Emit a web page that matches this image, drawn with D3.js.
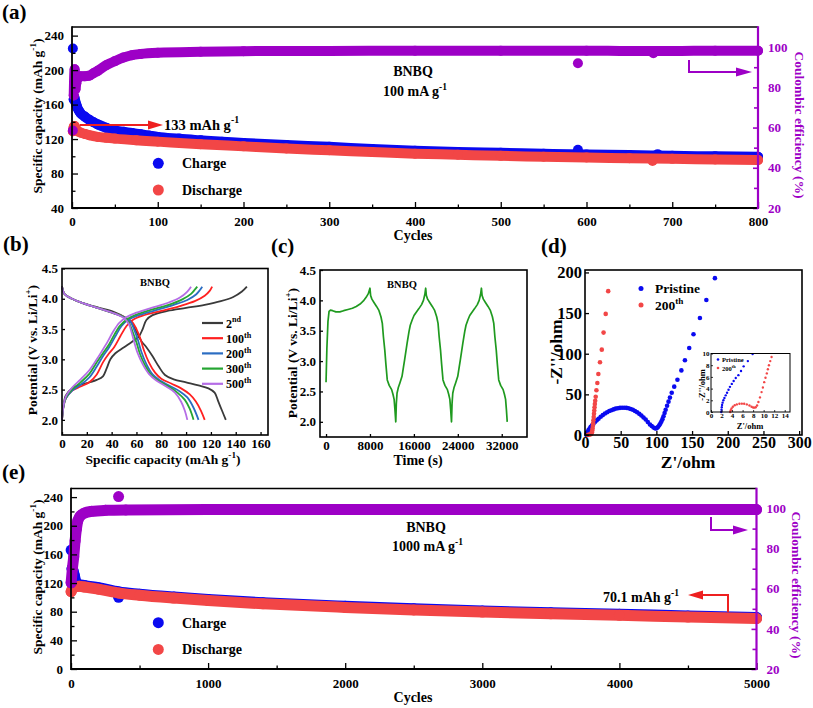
<!DOCTYPE html>
<html><head><meta charset="utf-8">
<script src="https://cdn.jsdelivr.net/npm/d3@7"></script>
<style>
body{margin:0;background:#fff}
svg{display:block}
text{font-family:"Liberation Serif","Times New Roman",serif;font-weight:bold}
</style></head><body>
<svg id="fig" width="813" height="708"></svg>
<script>
// ---------------- DATA ----------------
// (a) 100 mA g-1, [cycle, value]
const aCharge = [[2,166],[3,168],[4,163],[5,160],[6,157],[8,153],[10,150],[15,146],[20,142.5],[25,139.5],[30,137],[40,133],[50,130],[60,128.5],[70,127],[80,125.5],[90,124],[100,122.5],[125,120.5],[150,118.5],[175,117],[200,115.5],[250,113],[300,111],[350,108.5],[400,106.5],[450,105],[500,104],[550,103],[600,102],[650,101.5],[700,100.5],[750,100],[800,99.5]];
const aChargeOut = [[1,225],[590,107.5],[683,102.5]];
const aDischarge = [[1,129],[2,134],[3,135],[4,133],[5,131],[7,129],[10,127.5],[15,126],[20,124.5],[30,122.5],[40,121.5],[50,120.5],[75,118.5],[100,117],[150,114],[200,111.5],[250,109],[300,107],[350,105],[400,103],[450,101.8],[500,100.5],[550,99.5],[600,98.5],[650,97.8],[700,97],[750,96.3],[800,95.6]];
const aDischargeOut = [[677,94.5]];
const aCE = [[2,76],[3,89],[4,79],[5,82],[6,84],[8,85],[10,85.5],[15,85.5],[20,85.8],[25,87],[30,88.2],[40,91],[50,93],[60,94.8],[70,96],[80,96.6],[100,97.2],[150,97.7],[200,98],[300,98.1],[400,98.2],[500,98.2],[600,98.2],[650,98.1],[700,98.1],[750,98.2],[800,98.2]];
const aCEOut = [[1,58.5],[590,92],[678,97]];

// (e) 1000 mA g-1
const eCharge = [[8,140],[15,137],[25,130],[35,122],[50,118.5],[100,116.5],[200,113.5],[350,107.5],[500,104.5],[750,100.5],[1000,97],[1400,92.5],[2000,87.5],[2500,84],[3000,81],[3500,78.5],[4000,76.5],[4500,74],[5000,72]];
const eChargeOut = [[1,166],[347,100]];
const eDischarge = [[1,108],[10,112],[30,115],[60,115.5],[100,114.5],[200,111.5],[350,106],[500,103],[750,99],[1000,95.5],[1400,91],[2000,86],[2500,82.5],[3000,79.5],[3500,77],[4000,75],[4500,72.5],[5000,70.5]];
const eDischargeOut = [];
const eCE = [[1,63],[10,70],[20,76],[30,84],[40,90],[50,94],[70,96.5],[100,97.8],[150,98.6],[250,99.1],[400,99.3],[1000,99.5],[2000,99.5],[3000,99.5],[4000,99.5],[5000,99.5]];
const eCEOut = [[347,106]];

// (b) charge/discharge profiles [capacity, potential]
const bCycles = ["2", "100", "200", "300", "500"];
const bSuffix = ["nd", "th", "th", "th", "th"];
const bCharge = [
 [[0,2.0],[1,2.2],[3,2.4],[8,2.52],[15,2.58],[22,2.62],[28,2.66],[33,2.72],[36,2.85],[39,3.0],[43,3.1],[50,3.2],[57,3.3],[62,3.38],[65,3.5],[68,3.65],[73,3.73],[85,3.8],[100,3.85],[115,3.9],[128,3.96],[138,4.03],[145,4.12],[149,4.2]],
 [[0,2.0],[1,2.2],[3,2.35],[8,2.48],[15,2.55],[22,2.62],[28,2.75],[33,2.95],[38,3.1],[42,3.2],[47,3.38],[52,3.55],[57,3.65],[65,3.72],[80,3.8],[95,3.88],[107,3.96],[115,4.05],[119,4.13],[121,4.2]],
 [[0,2.0],[1,2.2],[3,2.35],[8,2.48],[15,2.58],[22,2.7],[28,2.88],[33,3.05],[38,3.2],[43,3.38],[48,3.55],[54,3.66],[62,3.73],[75,3.81],[90,3.9],[101,3.98],[108,4.07],[111,4.14],[113,4.2]],
 [[0,2.0],[1,2.2],[3,2.36],[8,2.5],[15,2.62],[22,2.76],[28,2.95],[33,3.1],[38,3.25],[42,3.4],[47,3.56],[53,3.67],[60,3.74],[72,3.82],[86,3.9],[97,3.99],[104,4.08],[107,4.15],[109,4.2]],
 [[0,2.0],[1,2.2],[3,2.38],[8,2.53],[15,2.67],[22,2.82],[28,3.0],[32,3.13],[37,3.3],[41,3.45],[46,3.6],[52,3.7],[60,3.77],[72,3.85],[85,3.93],[95,4.02],[101,4.12],[104,4.2]]
];
const bDischarge = [
 [[0,4.2],[2,4.08],[8,4.0],[18,3.92],[30,3.85],[42,3.78],[50,3.7],[56,3.6],[60,3.45],[64,3.3],[68,3.2],[73,3.05],[78,2.88],[83,2.74],[90,2.67],[100,2.62],[110,2.57],[118,2.52],[123,2.45],[126,2.3],[129,2.15],[132,2.0]],
 [[0,4.2],[2,4.08],[8,4.0],[18,3.92],[30,3.84],[42,3.76],[50,3.7],[56,3.63],[60,3.5],[63,3.35],[66,3.15],[70,2.95],[75,2.78],[80,2.68],[88,2.6],[96,2.52],[103,2.42],[108,2.3],[112,2.15],[115,2.0]],
 [[0,4.2],[2,4.08],[8,4.0],[18,3.92],[30,3.84],[42,3.76],[50,3.7],[55,3.63],[58,3.5],[61,3.33],[64,3.12],[68,2.92],[73,2.75],[79,2.65],[87,2.56],[95,2.47],[101,2.37],[106,2.2],[110,2.0]],
 [[0,4.2],[2,4.08],[8,4.0],[18,3.92],[30,3.84],[42,3.76],[50,3.69],[54,3.6],[57,3.45],[60,3.28],[63,3.08],[67,2.9],[72,2.74],[78,2.64],[86,2.55],[93,2.45],[99,2.33],[103,2.18],[106,2.0]],
 [[0,4.2],[2,4.08],[8,4.0],[18,3.92],[30,3.84],[42,3.76],[50,3.68],[54,3.58],[56,3.45],[58,3.3],[61,3.1],[65,2.92],[70,2.76],[76,2.65],[84,2.55],[91,2.45],[96,2.3],[99,2.15],[101,2.0]]
];

// (c) potential vs time [s, V]
const cProfile = [[0,2.65],[150,3.2],[350,3.65],[550,3.82],[800,3.84],[1200,3.83],[1800,3.81],[2500,3.81],[3200,3.83],[4000,3.85],[4800,3.87],[5500,3.9],[6200,3.94],[6800,3.99],[7300,4.05],[7700,4.11],[8000,4.2],
 [8120,4.08],[8350,4.02],[8700,3.97],[9200,3.9],[9600,3.84],[10000,3.73],[10250,3.62],[10450,3.4],[10700,3.18],[10900,2.95],[11150,2.69],[11500,2.6],[11950,2.53],[12200,2.45],[12400,2.37],[12550,2.2],[12700,2.0],
 [12800,2.3],[12930,2.47],[13150,2.56],[13450,2.64],[13840,2.75],[14100,2.9],[14310,3.02],[14760,3.29],[15100,3.48],[15340,3.59],[15700,3.68],[16020,3.75],[16880,3.86],[17400,3.93],[17740,4.0],[18000,4.1],[18150,4.2],
 [18270,4.08],[18500,4.02],[18850,3.97],[19350,3.9],[19750,3.84],[20150,3.73],[20400,3.62],[20600,3.4],[20850,3.18],[21050,2.95],[21300,2.69],[21650,2.6],[22100,2.53],[22350,2.45],[22550,2.37],[22700,2.2],[22850,2.0],
 [22950,2.3],[23080,2.47],[23300,2.56],[23600,2.64],[23990,2.75],[24250,2.9],[24460,3.02],[24910,3.29],[25250,3.48],[25490,3.59],[25850,3.68],[26170,3.75],[27030,3.86],[27550,3.93],[27890,4.0],[28150,4.1],[28300,4.2],
 [28420,4.08],[28650,4.02],[29000,3.97],[29500,3.9],[29900,3.84],[30300,3.73],[30550,3.62],[30750,3.4],[31000,3.18],[31200,2.95],[31450,2.69],[31800,2.6],[32250,2.53],[32500,2.45],[32700,2.37],[32850,2.2],[33000,2.0]];

// (d) Nyquist [Z', -Z'']
const dPristine = [[2,0],[2.5,2],[3.5,4],[5,6],[6.5,8],[8,10],[10,12],[12,14],[14,16],[16.5,18],[19,20],[22,22.5],[25,24.5],[28,26.5],[31,28],[34,29.5],[37,30.5],[40,31.5],[43,32.5],[46,33],[49,33.4],[52,33.6],[55,33.6],[58,33.4],[61,33],[64,32],[67,31],[70,29.5],[73,28],[76,26],[79,24],[82,21.5],[85,19],[88,16],[91,13],[93.5,11],[96,9.2],[98,8.3],[99.5,8],[101,8.8],[102.5,10],[104,12],[105.5,14],[107,16.5],[108.5,19.5],[110,23],[111.5,27],[113,31],[115,36],[117,41],[119,46],[121.5,52],[125,59.5],[129.5,68],[135,79.5],[140,92],[146,107],[152,124],[161,144],[170,166],[182,193]];
const d200 = [[4,0],[5,0.3],[6.5,0.5],[8,1],[9,2],[9.7,3.5],[10.2,5.5],[10.6,8],[11,11],[11.4,14.5],[11.8,18],[12.2,22],[12.6,26],[13,30],[13.4,34],[13.8,38],[14.3,42],[15,47],[16,55],[17.3,64],[18.7,75],[21,89.5],[23.5,105],[26,126],[29,149],[32.5,177]];
const iPristine = [[1.95,0],[2.0,0.4],[2.05,0.8],[2.1,1.2],[2.2,1.6],[2.35,2.0],[2.55,2.4],[2.8,2.85],[3.05,3.3],[3.33,3.8],[3.6,4.3],[3.95,4.8],[4.3,5.3],[4.7,5.8],[5.2,6.3],[5.7,7.0],[6.2,7.8],[7.0,8.7],[7.9,9.9]];
const i200 = [[3.65,0],[3.75,0.3],[3.9,0.6],[4.15,0.9],[4.5,1.15],[4.9,1.3],[5.4,1.4],[5.85,1.43],[6.3,1.4],[6.8,1.3],[7.3,1.1],[7.7,0.9],[8.0,0.78],[8.25,0.74],[8.5,0.8],[8.75,1.1],[9.0,1.7],[9.3,2.5],[9.6,3.4],[9.85,4.2],[10.1,5.1],[10.35,5.85],[10.6,6.6],[10.8,7.3],[11.0,8.0],[11.25,8.7],[11.5,9.4]];

// tick values
const aTicksL = [40,80,120,160,200,240], aMinorL = [60,100,140,180,220];
const aTicksX = [0,100,200,300,400,500,600,700,800], aMinorX = [50,150,250,350,450,550,650,750];
const ceTicks = [20,40,60,80,100], ceMinor = [30,50,70,90];
const eTicksL = [0,40,80,120,160,200,240], eMinorL = [20,60,100,140,180,220];
const eTicksX = [0,1000,2000,3000,4000,5000], eMinorX = [500,1500,2500,3500,4500];
const vTicks = [2.0,2.5,3.0,3.5,4.0,4.5];
const bTicksX = [0,20,40,60,80,100,120,140,160];
const cTicksX = [0,8000,16000,24000,32000];
const dTicksX = [0,50,100,150,200,250,300], dTicksY = [0,50,100,150,200];
const iTicksX = [0,2,4,6,8,10,12,14], iTicksY = [0,2,4,6,8,10];

// ---------------- STYLE ----------------
const BLUE = "#0a0af0", RED = "#f24646", PURPLE = "#9d00c6", ARED = "#ee2020";
const bColors = ["#3a3a3a", "#ff2020", "#2b6dc2", "#25a532", "#b56de6"];
const GREEN = "#1f9a1f";
const FONT = '"Liberation Serif","Times New Roman",serif';
const svg = d3.select("#fig");

function addText(g, x, y, parts, o) {
  const fs = o.size;
  const t = g.append("text").attr("x", x).attr("y", y).attr("font-size", fs)
    .attr("font-family", FONT).attr("font-weight", "bold")
    .attr("text-anchor", o.anchor || "start").attr("fill", o.fill || "#000");
  if (o.rotate) t.attr("transform", `rotate(${o.rotate},${x},${y})`);
  let raised = false;
  parts.forEach(p => {
    if (typeof p === "string") {
      const ts = t.append("tspan").text(p);
      if (raised) { ts.attr("dy", 0.42 * fs); raised = false; }
    } else {
      t.append("tspan").text(p.sup).attr("font-size", fs * 0.68).attr("dy", -0.42 * fs);
      raised = true;
    }
  });
  return t;
}
function styleAxis(a, color, fs, tw) {
  a.attr("font-family", FONT);
  a.select(".domain").remove();
  a.selectAll(".tick line").attr("stroke", color).attr("stroke-width", tw || 1.3);
  a.selectAll(".tick text").attr("fill", color).attr("font-size", fs)
    .attr("font-family", FONT).attr("font-weight", "bold");
  return a;
}
function ax(g, gen, tr, color, fs, tw) {
  return styleAxis(g.append("g").attr("transform", tr).call(gen), color, fs, tw);
}
function band(g, x, y, data, color, r) {
  const line = d3.line().x(d => x(d[0])).y(d => y(d[1])).curve(d3.curveMonotoneX);
  g.append("path").attr("d", line(data)).attr("fill", "none").attr("stroke", color)
    .attr("stroke-width", 2 * r).attr("stroke-linecap", "round").attr("stroke-linejoin", "round");
  dots(g, x, y, data, color, r);
}
function dots(g, x, y, data, color, r) {
  g.append("g").selectAll("circle").data(data).join("circle")
    .attr("cx", d => x(d[0])).attr("cy", d => y(d[1])).attr("r", r).attr("fill", color);
}
function line(g, x1, y1, x2, y2, color, w) {
  g.append("line").attr("x1", x1).attr("y1", y1).attr("x2", x2).attr("y2", y2)
    .attr("stroke", color).attr("stroke-width", w);
}
function arrow(g, pts, color) {
  g.append("path").attr("d", d3.line()(pts)).attr("fill", "none").attr("stroke", color).attr("stroke-width", 2);
}
function head(g, tip, dir, color, len, half) {
  const [tx, ty] = tip;
  g.append("path").attr("d", `M${tx},${ty}L${tx - dir * len},${ty - half}L${tx - dir * len},${ty + half}Z`).attr("fill", color);
}

// ---------------- PANEL (a)/(e) builder ----------------
function cyclePanel(cfg) {
  const g = svg.append("g");
  const { L, R, T, B } = cfg;
  const x = d3.scaleLinear(cfg.xDom, [L, R]);
  const y = d3.scaleLinear(cfg.yDom, [B, T]);
  const y2 = d3.scaleLinear([20, 110], [B, T]);
  band(g, x, y, cfg.charge, BLUE, cfg.r);
  dots(g, x, y, cfg.chargeOut, BLUE, cfg.r);
  band(g, x, y, cfg.discharge, RED, cfg.r);
  dots(g, x, y, cfg.dischargeOut, RED, cfg.r);
  band(g, x, y2, cfg.ce, PURPLE, cfg.r);
  dots(g, x, y2, cfg.ceOut, PURPLE, cfg.r);
  ax(g, d3.axisLeft(y).tickValues(cfg.tl).tickSize(-6).tickPadding(8).tickFormat(d3.format("d")), `translate(${L},0)`, "#000", 13);
  ax(g, d3.axisLeft(y).tickValues(cfg.tlm).tickSize(-3.5).tickFormat(""), `translate(${L},0)`, "#000", 13);
  ax(g, d3.axisBottom(x).tickValues(cfg.tx).tickSize(-6).tickPadding(cfg.xpad).tickFormat(d3.format("d")), `translate(0,${B})`, "#000", 13);
  ax(g, d3.axisBottom(x).tickValues(cfg.txm).tickSize(-3.5).tickFormat(""), `translate(0,${B})`, "#000", 13);
  ax(g, d3.axisRight(y2).tickValues(ceTicks).tickSize(-5).tickPadding(10).tickFormat(d3.format("d")), `translate(${R},0)`, PURPLE, 13, 1.6);
  ax(g, d3.axisRight(y2).tickValues(ceMinor).tickSize(-4).tickFormat(""), `translate(${R},0)`, PURPLE, 13, 1.6);
  line(g, L, T, R, T, "#000", 1.6);
  line(g, L, B, R + 1, B, "#000", 1.8);
  line(g, L, T - 0.8, L, B + 0.9, "#000", 1.8);
  line(g, R, T - 0.8, R, B + 1, PURPLE, 2.2);
  addText(g, cfg.ylx, cfg.yly, ["Specific capacity (mAh g", { sup: "-1" }, ")"], { size: 13.5, anchor: "middle", rotate: -90 });
  addText(g, cfg.y2lx, cfg.y2ly, ["Coulombic efficiency (%)"], { size: 13.5, anchor: "middle", rotate: 90, fill: PURPLE });
  addText(g, 413, cfg.xly, ["Cycles"], { size: 14, anchor: "middle" });
  g.append("circle").attr("cx", 158.3).attr("cy", cfg.legY).attr("r", 5.5).attr("fill", BLUE);
  g.append("circle").attr("cx", 158.3).attr("cy", cfg.legY + 26.7).attr("r", 5.5).attr("fill", RED);
  addText(g, 182, cfg.legY + 5, ["Charge"], { size: 14 });
  addText(g, 182, cfg.legY + 31.7, ["Discharge"], { size: 14 });
  return { g, x, y, y2 };
}

// (a)
const A = cyclePanel({ L: 72, R: 758, T: 27, B: 208, xDom: [0, 800], yDom: [40, 250], r: 5,
  charge: aCharge, chargeOut: aChargeOut, discharge: aDischarge, dischargeOut: aDischargeOut, ce: aCE, ceOut: aCEOut,
  tl: aTicksL, tlm: aMinorL, tx: aTicksX, txm: aMinorX, xpad: 9,
  ylx: 42, yly: 116, y2lx: 795, y2ly: 125, xly: 240, legY: 163.3 });
addText(A.g, 2, 19, ["(a)"], { size: 21 });
addText(A.g, 413, 76, ["BNBQ"], { size: 14, anchor: "middle" });
addText(A.g, 383, 96, ["100 mA g", { sup: "-1" }], { size: 14 });
arrow(A.g, [[80, 125], [150, 125]], ARED);
head(A.g, [163, 125], 1, ARED, 15, 4.5);
addText(A.g, 164, 129.5, ["133 mAh g", { sup: "-1" }], { size: 14.5 });
arrow(A.g, [[689, 60], [689, 72], [740, 72]], PURPLE);
head(A.g, [752, 72], 1, PURPLE, 16, 4.5);

// (e)
const E = cyclePanel({ L: 71, R: 756.5, T: 488.5, B: 669, xDom: [0, 5000], yDom: [0, 252], r: 5.5,
  charge: eCharge, chargeOut: eChargeOut, discharge: eDischarge, dischargeOut: eDischargeOut, ce: eCE, ceOut: eCEOut,
  tl: eTicksL, tlm: eMinorL, tx: eTicksX, txm: eMinorX, xpad: 10,
  ylx: 42, yly: 577, y2lx: 792, y2ly: 585, xly: 702, legY: 622.7 });
addText(E.g, 2, 479, ["(e)"], { size: 21 });
addText(E.g, 426, 532, ["BNBQ"], { size: 14, anchor: "middle" });
addText(E.g, 392, 551, ["1000 mA g", { sup: "-1" }], { size: 14 });
arrow(E.g, [[711, 517], [711, 530], [736, 530]], PURPLE);
head(E.g, [748, 530], 1, PURPLE, 15, 4.5);
arrow(E.g, [[728, 612], [728, 595], [700, 595]], ARED);
head(E.g, [688, 595], -1, ARED, 15, 4.5);
addText(E.g, 603, 602, ["70.1 mAh g", { sup: "-1" }], { size: 14 });

// ---------------- PANEL (b) ----------------
{
  const g = svg.append("g");
  const L = 62, R = 268, T = 268.5, B = 435;
  const x = d3.scaleLinear([0, 166], [L, R]);
  const y = d3.scaleLinear([1.75, 4.5], [B, T]);
  const lnD = d3.line().x(d => x(d[0])).y(d => y(d[1])).curve(d3.curveCatmullRom);
  bCycles.forEach((c, i) => {
    g.append("path").attr("d", lnD(bCharge[i])).attr("fill", "none").attr("stroke", bColors[i]).attr("stroke-width", 1.8);
    g.append("path").attr("d", lnD(bDischarge[i])).attr("fill", "none").attr("stroke", bColors[i]).attr("stroke-width", 1.8);
  });
  ax(g, d3.axisLeft(y).tickValues(vTicks).tickSize(-3).tickPadding(4).tickFormat(d3.format(".1f")), `translate(${L},0)`, "#000", 13);
  ax(g, d3.axisBottom(x).tickValues(bTicksX).tickSize(-3).tickPadding(4).tickFormat(d3.format("d")), `translate(0,${B})`, "#000", 13);
  g.append("rect").attr("x", L).attr("y", T).attr("width", R - L).attr("height", B - T).attr("fill", "none").attr("stroke", "#000").attr("stroke-width", 1.6);
  addText(g, 155, 286, ["BNBQ"], { size: 10.5, anchor: "middle" });
  bCycles.forEach((c, i) => {
    const yy = 323 + i * 15.2;
    line(g, 202, yy, 223, yy, bColors[i], 2.2);
    addText(g, 226, yy + 4.5, [c, { sup: bSuffix[i] }], { size: 12 });
  });
  addText(g, 37, 350, ["Potential (V vs. Li/Li", { sup: "+" }, ")"], { size: 13.5, anchor: "middle", rotate: -90 });
  addText(g, 163, 464, ["Specific capacity (mAh g", { sup: "-1" }, ")"], { size: 13.5, anchor: "middle" });
  addText(g, 3, 251, ["(b)"], { size: 21 });
}

// ---------------- PANEL (c) ----------------
{
  const g = svg.append("g");
  const L = 320, R = 527, T = 270, B = 437;
  const x = d3.scaleLinear([-1100, 36600], [L, R]);
  const y = d3.scaleLinear([1.75, 4.5], [B, T]);
  const ln = d3.line().x(d => x(d[0])).y(d => y(d[1]));
  g.append("path").attr("d", ln(cProfile)).attr("fill", "none").attr("stroke", GREEN).attr("stroke-width", 1.7).attr("stroke-linejoin", "round");
  ax(g, d3.axisLeft(y).tickValues(vTicks).tickSize(-3).tickPadding(4).tickFormat(d3.format(".1f")), `translate(${L},0)`, "#000", 13);
  ax(g, d3.axisBottom(x).tickValues(cTicksX).tickSize(-3).tickPadding(4).tickFormat(d3.format("d")), `translate(0,${B})`, "#000", 13);
  g.append("rect").attr("x", L).attr("y", T).attr("width", R - L).attr("height", B - T).attr("fill", "none").attr("stroke", "#000").attr("stroke-width", 1.6);
  addText(g, 402, 288, ["BNBQ"], { size: 10.5, anchor: "middle" });
  addText(g, 297, 353, ["Potential (V vs. Li/Li", { sup: "+" }, ")"], { size: 13.5, anchor: "middle", rotate: -90 });
  addText(g, 418, 465, ["Time (s)"], { size: 14, anchor: "middle" });
  addText(g, 271, 253, ["(c)"], { size: 21 });
}

// ---------------- PANEL (d) ----------------
{
  const g = svg.append("g");
  const L = 585, R = 802, T = 270, B = 435;
  const x = d3.scaleLinear([0, 304], [L, R]);
  const y = d3.scaleLinear([0, 203], [B, T]);
  dots(g, x, y, dPristine, BLUE, 2.3);
  dots(g, x, y, d200, RED, 2.3);
  ax(g, d3.axisLeft(y).tickValues(dTicksY).tickSize(-4).tickPadding(3).tickFormat(d3.format("d")), `translate(${L},0)`, "#000", 16.5);
  ax(g, d3.axisBottom(x).tickValues(dTicksX).tickSize(-4).tickPadding(2).tickFormat(d3.format("d")), `translate(0,${B})`, "#000", 16);
  g.append("rect").attr("x", L).attr("y", T).attr("width", R - L).attr("height", B - T).attr("fill", "none").attr("stroke", "#000").attr("stroke-width", 1.6);
  g.append("circle").attr("cx", 641).attr("cy", 288.5).attr("r", 2.5).attr("fill", BLUE);
  g.append("circle").attr("cx", 641).attr("cy", 305).attr("r", 2.5).attr("fill", RED);
  addText(g, 655, 293, ["Pristine"], { size: 13.5 });
  addText(g, 655, 310, ["200", { sup: "th" }], { size: 13.5 });
  addText(g, 562, 352, ["-Z''/ohm"], { size: 17.5, anchor: "middle", rotate: -90 });
  addText(g, 688, 468, ["Z'/ohm"], { size: 17.5, anchor: "middle" });
  addText(g, 541, 253, ["(d)"], { size: 21 });
  // inset
  const iL = 711, iR = 790, iT = 353.5, iB = 412;
  const xi = d3.scaleLinear([0, 15], [iL, iR]);
  const yi = d3.scaleLinear([0, 10], [iB, iT]);
  g.append("rect").attr("x", iL).attr("y", iT).attr("width", iR - iL).attr("height", iB - iT).attr("fill", "#fff");
  dots(g, xi, yi, iPristine, BLUE, 1.2);
  dots(g, xi, yi, i200, RED, 1.2);
  ax(g, d3.axisLeft(yi).tickValues(iTicksY).tickSize(-2).tickPadding(1.5).tickFormat(d3.format("d")), `translate(${iL},0)`, "#000", 7, 0.8);
  ax(g, d3.axisBottom(xi).tickValues(iTicksX).tickSize(-2).tickPadding(1.5).tickFormat(d3.format("d")), `translate(0,${iB})`, "#000", 7, 0.8);
  g.append("rect").attr("x", iL).attr("y", iT).attr("width", iR - iL).attr("height", iB - iT).attr("fill", "none").attr("stroke", "#000").attr("stroke-width", 1);
  g.append("circle").attr("cx", 718).attr("cy", 359.5).attr("r", 1.3).attr("fill", BLUE);
  g.append("circle").attr("cx", 718).attr("cy", 368).attr("r", 1.3).attr("fill", RED);
  addText(g, 722, 362, ["Pristine"], { size: 6.5 });
  addText(g, 722, 370.5, ["200", { sup: "th" }], { size: 6.5 });
  addText(g, 705, 385, ["-Z''/ohm"], { size: 8.5, anchor: "middle", rotate: -90 });
  addText(g, 750, 429, ["Z'/ohm"], { size: 8.5, anchor: "middle" });
}
</script>
</body></html>
